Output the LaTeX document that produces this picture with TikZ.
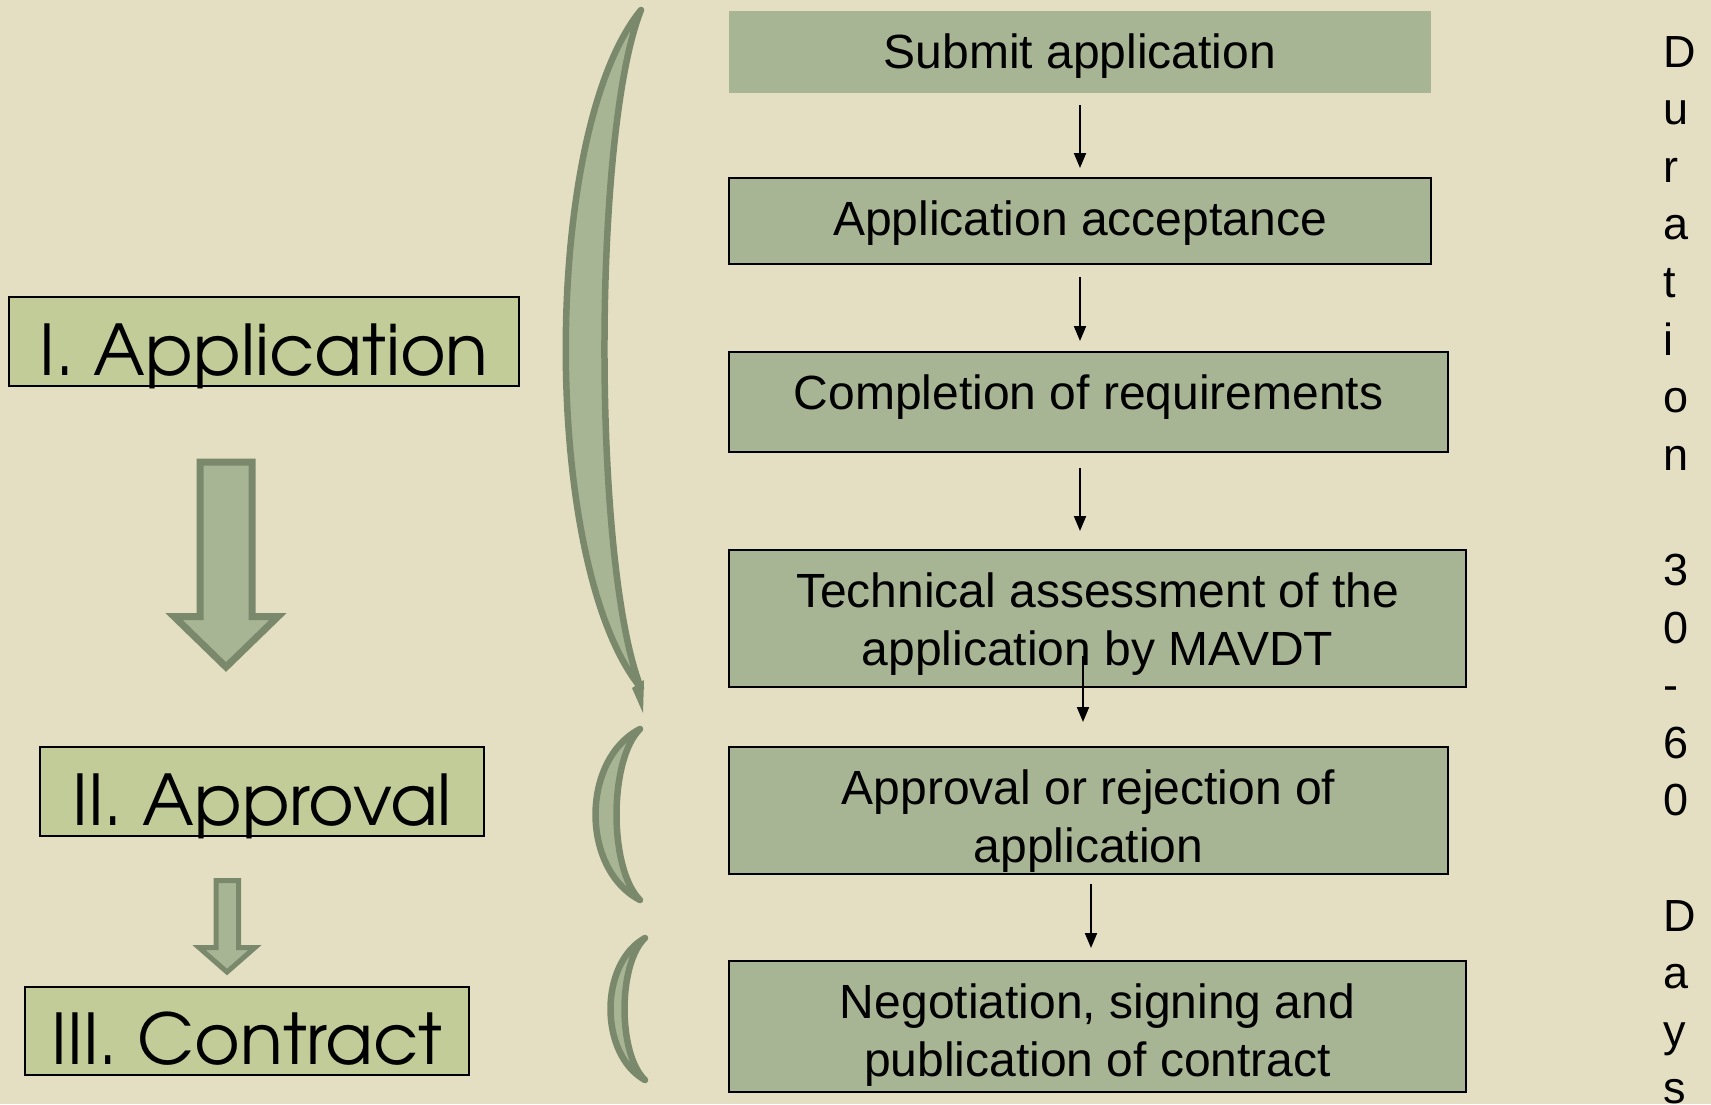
\documentclass[tikz,border=0pt]{standalone}
\usepackage{fontspec}
\setmainfont{Liberation Sans}
\newfontfamily\gothicfont{TeX Gyre Adventor}
\usetikzlibrary{arrows.meta,calc}

\definecolor{paper}{RGB}{228,223,195}
\definecolor{stepgreen}{RGB}{167,181,148}
\definecolor{phasegreen}{RGB}{194,204,153}
\definecolor{rimgreen}{RGB}{122,137,107}

\def\stepfont{\fontsize{48}{58}\selectfont}
\def\phasefont{\gothicfont\fontsize{70}{80}\selectfont}
% step text sits at the top of its box: width, height, text
\newcommand\steptext[3]{\parbox[c][#2pt][t]{#1pt}{\centering\rule{0pt}{57.5pt}#3}}

\begin{document}
\begin{tikzpicture}[x=1pt,y=-1pt,
  stepbox/.style={fill=stepgreen, draw=black, line width=2pt, inner sep=0pt, font=\stepfont},
  phasebox/.style={fill=phasegreen, draw=black, line width=2pt, inner sep=0pt, text height=67pt, text depth=0pt, font=\phasefont},
  flow/.style={-{Triangle[length=15pt,width=12pt]}, line width=2pt},
  fatarrow/.style={fill=stepgreen, draw=rimgreen, line join=miter},
  bracket/.style={fill=stepgreen, draw=rimgreen, line width=6.5pt, line join=round}]

\useasboundingbox (0,0) rectangle (1711,1104);
\fill[paper] (0,0) rectangle (1711,1104);

% brackets: tip x / top y / bottom y / outer ctrl x / inner ctrl x
\foreach \tx/\ty/\by/\co/\ci in {641/10/688/540.7/592.3, 640/729/900/580.7/608.7, 645/938/1080/599/617.7}
{
    \pgfmathsetmacro\ha{\ty+0.18*(\by-\ty)}
    \pgfmathsetmacro\hb{\by-0.18*(\by-\ty)}
    \draw[bracket] (\tx,\ty) .. controls (\co,\ha) and (\co,\hb) .. (\tx,\by)
                          .. controls (\ci,\hb) and (\ci,\ha) .. cycle;
}
\fill[rimgreen] (632,688) -- (644,680) -- (643,713) -- cycle; % spike under the big bracket

% phases on the left
\node[phasebox, minimum width=510pt, minimum height=89pt] (apl) at (264,341.5) {I. Application};
\node[phasebox, minimum width=444pt, minimum height=89pt] (apv) at (262,791.5) {II. Approval};
\node[phasebox, minimum width=444pt, minimum height=88pt] (con) at (247,1031) {III. Contract};

\draw[fatarrow, line width=7pt] (200,462) -- (252,462) -- (252,616.5) -- (278,616.5) -- (226,667) -- (174,616.5) -- (200,616.5) -- cycle; % apl to apv
\draw[fatarrow, line width=5pt] (216,880.5) -- (238.5,880.5) -- (238.5,947.5) -- (255,947.5) -- (227,972) -- (199,947.5) -- (216,947.5) -- cycle; % apv to con

% steps
\node[stepbox, draw=none] (sub) at (1080,52) {\steptext{702}{82}{Submit application}};
\node[stepbox] (acc) at (1080,221) {\steptext{702}{86}{Application acceptance}};
\node[stepbox] (req) at (1088.5,402) {\steptext{719}{100}{Completion of requirements}};
\node[stepbox] (tech) at (1097.5,618.5) {\steptext{737}{137}{Technical assessment of the\\application by MAVDT}};
\node[stepbox] (appr) at (1088.5,810.5) {\steptext{719}{127}{Approval or rejection of\\application}};
\node[stepbox] (neg) at (1097.5,1026.5) {\steptext{737}{131}{Negotiation, signing and\\publication of contract}};

\draw[flow] ($(sub.south)+(0,11)$) -- ($(acc.north)+(0,-9)$);
\draw[flow] ($(acc.south)+(0,12)$) -- ($(acc.south |- req.north)+(0,-10)$);
\draw[flow] ($(acc.south |- req.south)+(0,15)$) -- ($(acc.south |- tech.north)+(0,-18)$);
\draw[flow] ($(tech.south)+(-14.5,-32)$) -- ($(tech.south |- appr.north)+(-14.5,-24)$);
\draw[flow] ($(appr.south)+(2.5,9)$) -- ($(appr.south |- neg.north)+(2.5,-12)$);

% duration, one letter per line
\node[anchor=north west, inner sep=0pt, align=left, font=\fontsize{45}{57.6}\selectfont] (dur) at (1663,36)
    {D\\u\\r\\a\\t\\i\\o\\n\\\mbox{}\\3\\0\\-\\6\\0\\\mbox{}\\D\\a\\y\\s};
\end{tikzpicture}
\end{document}
